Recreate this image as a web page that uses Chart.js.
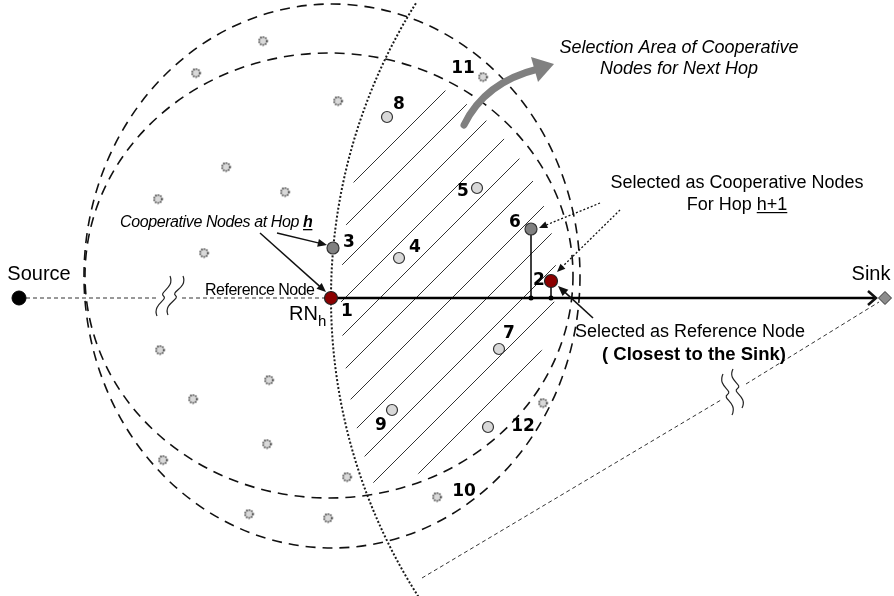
<!DOCTYPE html>
<html><head><meta charset="utf-8">
<script src="https://cdn.jsdelivr.net/npm/chart.js@4.4.1/dist/chart.umd.min.js"></script>
<style>html,body{margin:0;padding:0;background:#fff;overflow:hidden}#c{display:block}</style>
</head><body>
<canvas id="c" width="894" height="596"></canvas>
<script>
// ---------------- data (diagram coordinates) ----------------
const refNodeX = [331, 551];            // nodes 1, 2 (reference nodes)
const refNodeY = [298, 281];
const coopNodeX = [333, 531];           // nodes 3, 6 (cooperative nodes)
const coopNodeY = [248, 229];
const candNodeX = [399, 477, 499, 387, 392, 488];   // nodes 4,5,7,8,9,12
const candNodeY = [258, 188, 349, 117, 410, 427];
const otherNodeX = [483, 437, 263, 196, 338, 226, 285, 158, 204, 160, 269, 193, 267, 163, 347, 249, 328, 543];
const otherNodeY = [77, 497, 41, 73, 101, 167, 192, 199, 253, 350, 380, 399, 444, 460, 477, 514, 518, 403];
const nodeLabels = ['1', '2', '3', '6', '4', '5', '7', '8', '9', '12', '11', '10'];
const nodeLabelX = [347, 539, 349, 515, 415, 463, 509, 399, 381, 523, 463, 464];
const nodeLabelY = [312, 281, 243, 223, 248, 192, 334, 105, 426, 427, 69, 492];
const sourceXY = [19, 298];
const sinkXY = [885, 298];
const rangeRings = [{cx: 332, cy: 276, rx: 248, ry: 272}, {cx: 329, cy: 275.5, rx: 244, ry: 222.5}];
const boundaryRadius = 554;   // dotted arc centred on the sink
const hatchLevels = [536, 571, 607, 643, 678, 714, 750, 785, 821, 856, 892]; // x+y of hatch lines

// ---------------- helpers ----------------
const pts = (xs, ys) => xs.map((v, i) => ({x: v, y: ys[i]}));
function dottedPointImage() {
  const c = document.createElement('canvas');
  c.width = 11; c.height = 11;
  const g = c.getContext('2d');
  g.beginPath(); g.arc(5.5, 5.5, 4, 0, Math.PI * 2);
  g.fillStyle = '#d9d9d9'; g.fill();
  g.setLineDash([1.3, 1.3]); g.lineWidth = 1.4; g.strokeStyle = '#000'; g.stroke();
  return c;
}
function seg(a, b, opts) {
  return Object.assign({type: 'scatter', showLine: true, order: 5, data: [{x: a[0], y: a[1]}, {x: b[0], y: b[1]}],
    pointRadius: 0, borderColor: '#222', borderWidth: 1, fill: false}, opts || {});
}

const diagram = {
  id: 'diagram',
  beforeDatasetsDraw(chart) {
    const {ctx, scales: {x, y}} = chart;
    const X = v => x.getPixelForValue(v), Y = v => y.getPixelForValue(v);
    const sx = X(1) - X(0), sy = Math.abs(Y(1) - Y(0));
    ctx.save();
    // hatch lines clipped to selection area (inside inner ring, right of dotted boundary)
    ctx.save();
    const inner = rangeRings[1];
    ctx.beginPath();
    ctx.ellipse(X(inner.cx - 3), Y(inner.cy), (inner.rx - 14) * sx, (inner.ry - 6) * sy, 0, 0, Math.PI * 2);
    ctx.clip();
    ctx.beginPath();
    ctx.arc(X(sinkXY[0]), Y(sinkXY[1]), (boundaryRadius - 10) * sx, 0, Math.PI * 2);
    ctx.clip();
    ctx.strokeStyle = '#333'; ctx.lineWidth = 1;
    hatchLevels.forEach(c => {
      ctx.beginPath(); ctx.moveTo(X(c), Y(0)); ctx.lineTo(X(c - 596), Y(596)); ctx.stroke();
    });
    ctx.restore();
    // range rings
    ctx.setLineDash([10, 7]); ctx.lineWidth = 1.6; ctx.strokeStyle = '#111';
    rangeRings.forEach(r => {
      ctx.beginPath(); ctx.ellipse(X(r.cx), Y(r.cy), r.rx * sx, r.ry * sy, 0, 0, Math.PI * 2); ctx.stroke();
    });
    // dotted boundary arc around sink
    ctx.setLineDash([2, 2]); ctx.lineWidth = 2; ctx.strokeStyle = '#1a1a1a';
    ctx.beginPath(); ctx.arc(X(sinkXY[0]), Y(sinkXY[1]), boundaryRadius * sx, 2.565, 3.705); ctx.stroke();
    ctx.restore();
  },
  afterDatasetsDraw(chart) {
    const {ctx, scales: {x, y}} = chart;
    const X = v => x.getPixelForValue(v), Y = v => y.getPixelForValue(v);
    ctx.save();
    ctx.fillStyle = '#000'; ctx.textAlign = 'center'; ctx.textBaseline = 'middle';
    // node numbers
    ctx.font = 'bold 17px "DejaVu Sans"';
    nodeLabels.forEach((t, i) => ctx.fillText(t, X(nodeLabelX[i]), Y(nodeLabelY[i])));
    ctx.textBaseline = 'alphabetic';
    // source / sink
    ctx.font = '20px "Liberation Sans"';
    ctx.fillText('Source', X(39), Y(280));
    ctx.fillText('Sink', X(871), Y(280));
    // RN_h
    ctx.textAlign = 'left';
    ctx.font = '20px "Liberation Sans"';
    ctx.fillText('RN', X(289), Y(320));
    ctx.font = '15px "Liberation Sans"';
    ctx.fillText('h', X(318), Y(326));
    // reference node label
    ctx.font = '16px "Liberation Sans"';
    ctx.letterSpacing = '-0.5px';
    ctx.fillText('Reference Node', X(205), Y(295));
    // cooperative nodes at hop h
    ctx.font = 'italic 16px "Liberation Sans"';
    ctx.letterSpacing = '-0.4px';
    const t1 = 'Cooperative Nodes at Hop ';
    ctx.fillText(t1, X(120), Y(227));
    const w1 = ctx.measureText(t1).width;
    ctx.font = 'bold italic 16px "Liberation Sans"';
    ctx.fillText('h', X(120) + w1, Y(227));
    const wh = ctx.measureText('h').width;
    ctx.fillRect(X(120) + w1, Y(229), wh, 1.3);
    ctx.letterSpacing = '0px';
    // selection area text
    ctx.textAlign = 'center';
    ctx.font = 'italic 18px "Liberation Sans"';
    ctx.fillText('Selection Area of Cooperative', X(679), Y(53));
    ctx.fillText('Nodes for Next Hop', X(679), Y(74));
    // selected as cooperative nodes
    ctx.font = '18px "Liberation Sans"';
    ctx.fillText('Selected as Cooperative Nodes', X(737), Y(188));
    const a = 'For Hop ', b = 'h+1';
    const wa = ctx.measureText(a).width, wb = ctx.measureText(b).width;
    const sx0 = X(737) - (wa + wb) / 2;
    ctx.textAlign = 'left';
    ctx.fillText(a, sx0, Y(210));
    ctx.fillText(b, sx0 + wa, Y(210));
    ctx.fillRect(sx0 + wa, Y(212), wb, 1.2);
    // selected as reference node
    ctx.textAlign = 'center';
    ctx.fillText('Selected as Reference Node', X(690), Y(337));
    ctx.font = 'bold 18.5px "Liberation Sans"';
    ctx.fillText('( Closest to the Sink)', X(694), Y(360));

    // arrows
    ctx.strokeStyle = '#111'; ctx.fillStyle = '#111'; ctx.lineWidth = 1.5;
    const arrow = (x1, y1, x2, y2, dash, size) => {
      ctx.save();
      const ang = Math.atan2(Y(y2) - Y(y1), X(x2) - X(x1));
      ctx.setLineDash(dash || []);
      ctx.beginPath(); ctx.moveTo(X(x1), Y(y1));
      ctx.lineTo(X(x2) - Math.cos(ang) * size * 0.8, Y(y2) - Math.sin(ang) * size * 0.8); ctx.stroke();
      ctx.setLineDash([]);
      ctx.beginPath(); ctx.moveTo(X(x2), Y(y2));
      ctx.lineTo(X(x2) - size * Math.cos(ang - 0.4), Y(y2) - size * Math.sin(ang - 0.4));
      ctx.lineTo(X(x2) - size * Math.cos(ang + 0.4), Y(y2) - size * Math.sin(ang + 0.4));
      ctx.closePath(); ctx.fill();
      ctx.restore();
    };
    arrow(277, 233, 327, 245, null, 10);
    arrow(260, 233, 326, 292, null, 10);
    ctx.lineWidth = 1.3;
    arrow(600, 203, 539, 228, [2, 2], 9);
    arrow(620, 210, 557, 272, [2, 2], 9);
    ctx.lineWidth = 1.6;
    arrow(593, 318, 558, 286, null, 11);
    // main route arrowhead (open)
    ctx.lineWidth = 2.5;
    ctx.beginPath(); ctx.moveTo(X(868), Y(291)); ctx.lineTo(X(876), Y(298)); ctx.lineTo(X(868), Y(305)); ctx.stroke();
    // break squiggles
    ctx.lineWidth = 1.2; ctx.strokeStyle = '#222';
    const squiggle = (x0, y0, x1, y1, k) => {
      ctx.beginPath(); ctx.moveTo(X(x0), Y(y0));
      const mx = (x0 + x1) / 2, my = (y0 + y1) / 2;
      ctx.bezierCurveTo(X(x0 - k), Y(y0 + (my - y0) * 0.6), X(mx + k), Y(my - (my - y0) * 0.2), X(mx), Y(my));
      ctx.bezierCurveTo(X(mx - k), Y(my + (y1 - my) * 0.2), X(x1 + k), Y(y1 - (y1 - my) * 0.6), X(x1), Y(y1));
      ctx.stroke();
    };
    squiggle(157, 316, 170, 276, 5);
    squiggle(168, 315, 183, 276, 5);
    squiggle(732, 415, 723, 374, -6);
    squiggle(742, 408, 733, 369, -6);
    // thick grey curved arrow
    ctx.strokeStyle = '#808080'; ctx.fillStyle = '#808080'; ctx.lineWidth = 7; ctx.lineCap = 'round';
    ctx.beginPath(); ctx.moveTo(X(464), Y(125));
    ctx.quadraticCurveTo(X(485), Y(82), X(538), Y(69)); ctx.stroke();
    ctx.lineCap = 'butt';
    ctx.beginPath(); ctx.moveTo(X(554), Y(64)); ctx.lineTo(X(531), Y(57)); ctx.lineTo(X(538), Y(82)); ctx.closePath(); ctx.fill();
    ctx.restore();
  }
};

const datasets = [
  // nodes (drawn on top: order 0)
  {type: 'scatter', order: 0, data: [{x: sinkXY[0], y: sinkXY[1]}], pointStyle: 'rectRot', pointRadius: 6.5, backgroundColor: '#8c8c8c', borderColor: '#333', borderWidth: 1},
  {type: 'scatter', order: 0, data: [{x: sourceXY[0], y: sourceXY[1]}], pointRadius: 7, backgroundColor: '#000', borderColor: '#000'},
  {type: 'scatter', order: 0, data: pts(refNodeX, refNodeY), pointRadius: 6.5, backgroundColor: '#8b0000', borderColor: '#222', borderWidth: 1.2},
  {type: 'scatter', order: 0, data: pts(coopNodeX, coopNodeY), pointRadius: 6, backgroundColor: '#808080', borderColor: '#333', borderWidth: 1.2},
  {type: 'scatter', order: 0, data: pts(candNodeX, candNodeY), pointRadius: 5.5, backgroundColor: '#d9d9d9', borderColor: '#333', borderWidth: 1.2},
  {type: 'scatter', order: 0, data: pts(otherNodeX, otherNodeY), pointStyle: dottedPointImage()},
  // links (drawn underneath)
  seg(sourceXY, [157, 298], {borderDash: [4, 3], borderWidth: 1, borderColor: '#333'}),
  seg([182, 298], [325, 298], {borderDash: [4, 3], borderWidth: 1, borderColor: '#333'}),
  seg([422, 578], [721, 400], {borderDash: [4, 3], borderWidth: 1, borderColor: '#333'}),
  seg([746, 384], [879, 302], {borderDash: [4, 3], borderWidth: 1, borderColor: '#333'}),
  seg([refNodeX[0], refNodeY[0]], [875, 298], {borderWidth: 2.5, borderColor: '#000'}),
  {type: 'scatter', order: 5, showLine: true, data: [{x: coopNodeX[1], y: coopNodeY[1]}, {x: coopNodeX[1], y: 298}],
    pointRadius: [0, 2.5], pointBackgroundColor: '#000', pointBorderWidth: 0, borderColor: '#000', borderWidth: 1.5},
  {type: 'scatter', order: 5, showLine: true, data: [{x: refNodeX[1], y: refNodeY[1]}, {x: refNodeX[1], y: 298}],
    pointRadius: [0, 2.5], pointBackgroundColor: '#000', pointBorderWidth: 0, borderColor: '#000', borderWidth: 1.5}
];

new Chart(document.getElementById('c'), {
  type: 'scatter',
  data: {datasets},
  options: {
    responsive: false, animation: false, devicePixelRatio: 1,
    layout: {padding: 0, autoPadding: false},
    plugins: {legend: {display: false}, tooltip: {enabled: false}},
    scales: {
      x: {type: 'linear', min: 0, max: 894, display: false},
      y: {type: 'linear', min: 0, max: 596, reverse: true, display: false}
    }
  },
  plugins: [diagram]
});
</script>
</body></html>
